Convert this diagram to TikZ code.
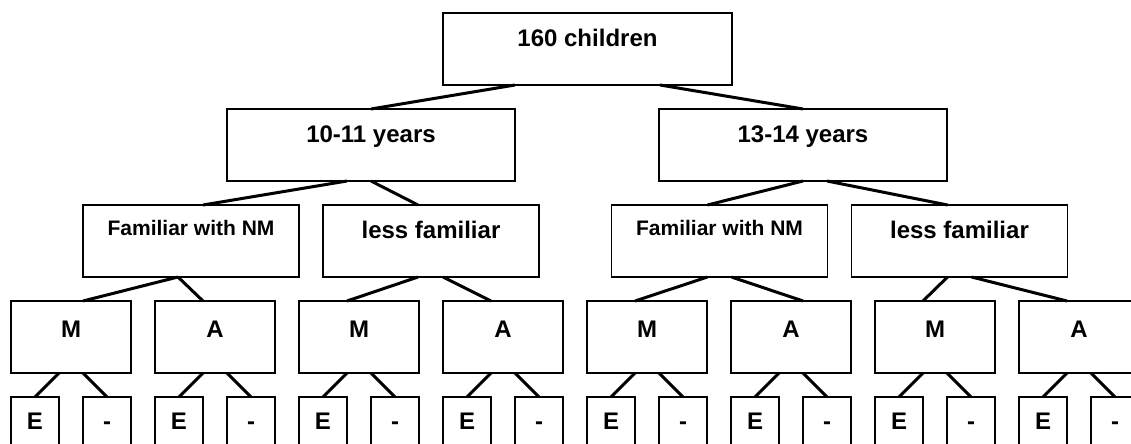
\documentclass[tikz,border=0pt]{standalone}
\usepackage{fontspec}
\setmainfont{Liberation Sans}
\usetikzlibrary{positioning,calc}

\begin{document}
\begin{tikzpicture}[
    x=0.5pt,
    y=-0.5pt,
    group/.style={
        draw,
        rectangle,
        line width=0.8pt,
        inner sep=0pt,
        outer sep=0pt,
        minimum height=36pt,
        text height=8pt,
        text depth=10pt,
        font=\fontsize{12}{14}\selectfont\bfseries
    },
    root/.style={
        group,
        minimum width=144.5pt
    },
    age/.style={
        group,
        minimum width=144pt
    },
    famil/.style={
        group,
        minimum width=108pt
    },
    task/.style={
        group,
        minimum width=60pt,
        text height=9pt,
        text depth=9pt
    },
    leaf/.style={
        group,
        minimum width=24pt,
        text depth=12pt
    },
    link/.style={
        line width=1.5pt
    }
]

\useasboundingbox (0,0) rectangle (1131,444);
\clip (0,0) rectangle (1131,444);

%%%%%%%%%%%%%%%%%%%%%%%%%%%%%%%%%%%%%%%%%%%%%%%%%%%%
%% Whole sample and age groups
%%%%%%%%%%%%%%%%%%%%%%%%%%%%%%%%%%%%%%%%%%%%%%%%%%%%

\node[root] (root) at (587.5,49) {160 children};

\node[age] (young) at (371,145) {10-11 years};
\node[age] (old) at (803,145) {13-14 years};

%%%%%%%%%%%%%%%%%%%%%%%%%%%%%%%%%%%%%%%%%%%%%%%%%%%%
%% Familiarity
%%%%%%%%%%%%%%%%%%%%%%%%%%%%%%%%%%%%%%%%%%%%%%%%%%%%

\node[famil,text height=6pt,text depth=12pt,
    font=\fontsize{10.5}{12}\selectfont\bfseries] (famyoung) at (191,241)
{Familiar with NM};
\node[famil] (lessyoung) at (431,241) {less familiar};

\node[famil,text height=6pt,text depth=12pt,
    font=\fontsize{10.5}{12}\selectfont\bfseries] (famold) at (719.5,241)
{Familiar with NM};
\node[famil] (lessold) at (959.5,241) {less familiar};

%%%%%%%%%%%%%%%%%%%%%%%%%%%%%%%%%%%%%%%%%%%%%%%%%%%%
%% Tasks
%%%%%%%%%%%%%%%%%%%%%%%%%%%%%%%%%%%%%%%%%%%%%%%%%%%%

\node[task] (m1) at (71,337) {M};
\node[task,right=12pt of m1] (a1) {A};
\node[task,right=12pt of a1] (m2) {M};
\node[task,right=12pt of m2] (a2) {A};
\node[task,right=12pt of a2] (m3) {M};
\node[task,right=12pt of m3] (a3) {A};
\node[task,right=12pt of a3] (m4) {M};
\node[task,right=12pt of m4] (a4) {A};

%%%%%%%%%%%%%%%%%%%%%%%%%%%%%%%%%%%%%%%%%%%%%%%%%%%%
%% Leaves
%%%%%%%%%%%%%%%%%%%%%%%%%%%%%%%%%%%%%%%%%%%%%%%%%%%%

\node[leaf,below right=12pt and 0pt of m1.south west] (m1e) {E};
\node[leaf,below left=12pt and 0pt of m1.south east] (m1d) {-};
\node[leaf,below right=12pt and 0pt of a1.south west] (a1e) {E};
\node[leaf,below left=12pt and 0pt of a1.south east] (a1d) {-};
\node[leaf,below right=12pt and 0pt of m2.south west] (m2e) {E};
\node[leaf,below left=12pt and 0pt of m2.south east] (m2d) {-};
\node[leaf,below right=12pt and 0pt of a2.south west] (a2e) {E};
\node[leaf,below left=12pt and 0pt of a2.south east] (a2d) {-};
\node[leaf,below right=12pt and 0pt of m3.south west] (m3e) {E};
\node[leaf,below left=12pt and 0pt of m3.south east] (m3d) {-};
\node[leaf,below right=12pt and 0pt of a3.south west] (a3e) {E};
\node[leaf,below left=12pt and 0pt of a3.south east] (a3d) {-};
\node[leaf,below right=12pt and 0pt of m4.south west] (m4e) {E};
\node[leaf,below left=12pt and 0pt of m4.south east] (m4d) {-};
\node[leaf,below right=12pt and 0pt of a4.south west] (a4e) {E};
\node[leaf,below left=12pt and 0pt of a4.south east] (a4d) {-};

%%%%%%%%%%%%%%%%%%%%%%%%%%%%%%%%%%%%%%%%%%%%%%%%%%%%
%% Upper links
%%%%%%%%%%%%%%%%%%%%%%%%%%%%%%%%%%%%%%%%%%%%%%%%%%%%

\draw[link] ($(root.south)+(-72.5,0)$) -- (young.north);
\draw[link] ($(root.south)+(72.5,0)$) -- (old.north);

\draw[link] ($(young.south)+(-24,0)$) -- ($(famyoung.north)+(12,0)$);
\draw[link] (young.south) -- ($(lessyoung.north)+(-13,0)$);

\draw[link] (old.south) -- ($(famold.north)+(-12,0)$);
\draw[link] ($(old.south)+(24,0)$) -- ($(lessold.north)+(-12,0)$);

%%%%%%%%%%%%%%%%%%%%%%%%%%%%%%%%%%%%%%%%%%%%%%%%%%%%
%% Task links
%%%%%%%%%%%%%%%%%%%%%%%%%%%%%%%%%%%%%%%%%%%%%%%%%%%%

\draw[link] ($(famyoung.south)+(-13,0)$) -- ($(m1.north)+(12,0)$);
\draw[link] ($(famyoung.south)+(-13,0)$) -- ($(a1.north)+(-12,0)$);

\draw[link] ($(lessyoung.south)+(-13,0)$) -- ($(m2.north)+(-12,0)$);
\draw[link] ($(lessyoung.south)+(12,0)$) -- ($(a2.north)+(-12,0)$);

\draw[link] ($(famold.south)+(-12,0)$) -- ($(m3.north)+(-12,0)$);
\draw[link] ($(famold.south)+(12,0)$) -- ($(a3.north)+(12,0)$);

\draw[link] ($(lessold.south)+(-12,0)$) -- ($(m4.north)+(-12,0)$);
\draw[link] ($(lessold.south)+(12,0)$) -- ($(a4.north)+(-12,0)$);

%%%%%%%%%%%%%%%%%%%%%%%%%%%%%%%%%%%%%%%%%%%%%%%%%%%%
%% Leaf links
%%%%%%%%%%%%%%%%%%%%%%%%%%%%%%%%%%%%%%%%%%%%%%%%%%%%

\draw[link] ($(m1.south)+(-12,0)$) -- (m1e.north);
\draw[link] ($(m1.south)+(12,0)$) -- (m1d.north);
\draw[link] ($(a1.south)+(-12,0)$) -- (a1e.north);
\draw[link] ($(a1.south)+(12,0)$) -- (a1d.north);
\draw[link] ($(m2.south)+(-12,0)$) -- (m2e.north);
\draw[link] ($(m2.south)+(12,0)$) -- (m2d.north);
\draw[link] ($(a2.south)+(-12,0)$) -- (a2e.north);
\draw[link] ($(a2.south)+(12,0)$) -- (a2d.north);
\draw[link] ($(m3.south)+(-12,0)$) -- (m3e.north);
\draw[link] ($(m3.south)+(12,0)$) -- (m3d.north);
\draw[link] ($(a3.south)+(-12,0)$) -- (a3e.north);
\draw[link] ($(a3.south)+(12,0)$) -- (a3d.north);
\draw[link] ($(m4.south)+(-12,0)$) -- (m4e.north);
\draw[link] ($(m4.south)+(12,0)$) -- (m4d.north);
\draw[link] ($(a4.south)+(-12,0)$) -- (a4e.north);
\draw[link] ($(a4.south)+(12,0)$) -- (a4d.north);

\end{tikzpicture}
\end{document}
